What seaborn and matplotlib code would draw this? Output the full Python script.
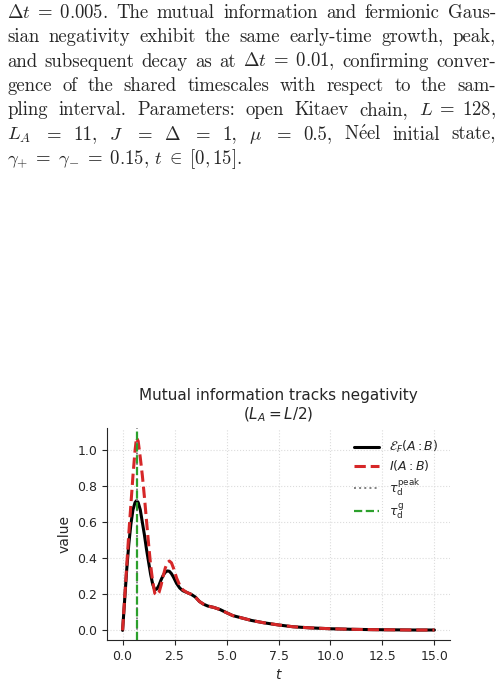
import numpy as np
import pandas as pd
import seaborn as sns
import matplotlib.pyplot as plt

# values
t = [0, 0.1, 0.2, 0.3, 0.4, 0.5, 0.6, 0.67, 0.75, 0.85, 0.95, 1.05, 1.15,
     1.25, 1.35, 1.45, 1.55, 1.65, 1.75, 1.85, 1.95, 2.05, 2.15, 2.25, 2.35,
     2.45, 2.6, 2.75, 2.9, 3.1, 3.3, 3.5, 3.7, 3.9, 4.1, 4.4, 4.7, 5.0, 5.3,
     5.7, 6.2, 6.8, 7.5, 8.2, 9.0, 10.0, 11.0, 12.0, 13.0, 14.0, 15.0]
ent_neg = [0, 0.17, 0.34, 0.48, 0.59, 0.67, 0.71, 0.72, 0.71, 0.67, 0.60,
           0.53, 0.45, 0.38, 0.31, 0.255, 0.225, 0.23, 0.25, 0.28, 0.305,
           0.322, 0.33, 0.328, 0.315, 0.295, 0.26, 0.235, 0.22, 0.21, 0.20,
           0.185, 0.16, 0.145, 0.135, 0.127, 0.115, 0.098, 0.082, 0.07, 0.055,
           0.042, 0.03, 0.02, 0.014, 0.009, 0.006, 0.004, 0.003, 0.002, 0.002]
mutual_info = [0, 0.18, 0.36, 0.54, 0.70, 0.86, 1.0, 1.07, 1.05, 0.96, 0.86,
               0.74, 0.61, 0.48, 0.36, 0.27, 0.205, 0.195, 0.21, 0.25, 0.30,
               0.345, 0.375, 0.385, 0.375, 0.345, 0.29, 0.25, 0.225, 0.21, 0.20,
               0.185, 0.16, 0.145, 0.135, 0.127, 0.115, 0.098, 0.082, 0.07, 0.055,
               0.042, 0.03, 0.02, 0.014, 0.009, 0.006, 0.004, 0.003, 0.002, 0.002]
tau_peak = 0.67
tau_g = 0.70

caption_lines = [
    [r'$\Delta t\;=\;0.005$.', 'The', 'mutual', 'information', 'and', 'fermionic', 'Gaus-'],
    ['sian', 'negativity', 'exhibit', 'the', 'same', 'early-time', 'growth,', 'peak,'],
    ['and', 'subsequent', 'decay', 'as', 'at', r'$\Delta t\;=\;0.01$,', 'confirming', 'conver-'],
    ['gence', 'of', 'the', 'shared', 'timescales', 'with', 'respect', 'to', 'the', 'sam-'],
    ['pling', 'interval.', 'Parameters:', 'open', 'Kitaev', 'chain,', r'$L\;=\;128$,'],
    [r'$L_A$', r'$=$', '11,', r'$J$', r'$=$', r'$\Delta$', r'$=$', '1,', r'$\mu$',
     r'$=$', '0.5,', r'N$\acute{\mathrm{e}}$el', 'initial', 'state,'],
]
caption_last = r'$\gamma_{+}\;=\;\gamma_{-}\;=\;0.15$, $t\;\in\;[0, 15]$.'

sns.set_style('ticks', {'axes.grid': True, 'grid.linestyle': ':', 'grid.color': '#dcdcdc'})
plt.rcParams['font.family'] = ['DejaVu Sans']

W, H = 501, 689
fig = plt.figure(figsize=(W / 100, H / 100), dpi=100)

# caption text, justified word by word
cap_kw = dict(fontsize=13.5, family=['cmr10', 'DejaVu Serif'], math_fontfamily='cm',
              va='baseline', ha='left')
renderer = fig.canvas.get_renderer()
x0, x1 = 7, 496
for i, words in enumerate(caption_lines):
    y = 18 + i * 24.3
    txts = [fig.text(0, 0, w, **cap_kw) for w in words]
    widths = [tx.get_window_extent(renderer).width for tx in txts]
    gap = (x1 - x0 - sum(widths)) / (len(words) - 1)
    x = x0
    for tx, w in zip(txts, widths):
        tx.set_position((x / W, 1 - y / H))
        x += w + gap
fig.text(x0 / W, 1 - (18 + 6 * 24.3) / H, caption_last, **cap_kw)

ax = fig.add_axes([107 / W, 1 - 640 / H, 343 / W, 212 / H])
df = pd.DataFrame({'t': t, 'neg': ent_neg, 'mi': mutual_info})
sns.lineplot(data=df, x='t', y='neg', ax=ax, color='black', lw=2.2,
             label=r'$\mathcal{E}_F(A:B)$')
sns.lineplot(data=df, x='t', y='mi', ax=ax, color='#d62728', lw=2.2, ls='--',
             label=r'$I(A:B)$')
ax.axvline(tau_peak, color='gray', ls=':', lw=1.4, label=r'$\tau_{\rm d}^{\rm peak}$')
ax.axvline(tau_g, color='#2ca02c', ls='--', lw=1.6, label=r'$\tau_{\rm d}^{\rm g}$')

ax.set_xticks([0, 2.5, 5, 7.5, 10, 12.5, 15])
ax.set_yticks([0, 0.2, 0.4, 0.6, 0.8, 1.0])
ax.tick_params(labelsize=9)
ax.set_xlabel(r'$t$', fontsize=10)
ax.set_ylabel('value', fontsize=10)
ax.set_title('Mutual information tracks negativity\n($L_A = L/2$)', fontsize=11)
ax.legend(loc='upper right', frameon=False, fontsize=9, labelspacing=0.25)
sns.despine(ax=ax)

fig.savefig('out.png', dpi=100)
